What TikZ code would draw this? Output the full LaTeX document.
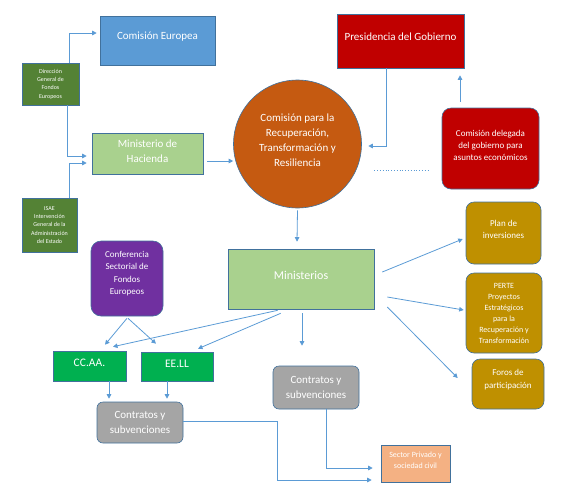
\documentclass[tikz,border=0pt]{standalone}
\usepackage{fontspec}
\setmainfont{Carlito}
\usetikzlibrary{arrows.meta}

\definecolor{bordc}{HTML}{41719C}
\definecolor{linec}{HTML}{5B9BD5}
\definecolor{ceblue}{HTML}{5B9BD5}
\definecolor{dkgreen}{HTML}{548235}
\definecolor{ltgreen}{HTML}{A9D18E}
\definecolor{circorange}{HTML}{C55A11}
\definecolor{govred}{HTML}{C00000}
\definecolor{gold}{HTML}{BF9000}
\definecolor{confpurple}{HTML}{7030A0}
\definecolor{brgreen}{HTML}{00B050}
\definecolor{contgray}{HTML}{A5A5A5}
\definecolor{peach}{HTML}{F4B183}

\begin{document}
\begin{tikzpicture}[x=1pt,y=-1pt,
	box/.style={draw=bordc, line width=0.6pt, text=white, align=center, inner sep=1pt},
	rbox/.style={box, rounded corners=9pt},
	arr/.style={-{Triangle[width=4.5pt,length=4.5pt]}, linec, line width=0.8pt},
	dotline/.style={linec, line width=0.8pt, dotted},
	]

	\useasboundingbox (0,0) rectangle (570,488);

	% upper part
	\node[box, fill=ceblue, minimum width=115, minimum height=49, text depth=10pt, font=\fontsize{11}{15}\selectfont] (ce) at (157.5,40.5) {Comisión Europea};
	\node[box, fill=dkgreen, minimum width=57, minimum height=42, font=\fontsize{6}{8.3}\selectfont] (dgfe) at (50.5,84) {Dirección\\General de\\Fondos\\Europeos};
	\node[box, fill=ltgreen, minimum width=111, minimum height=41, text depth=4pt, font=\fontsize{11}{15}\selectfont] (hac) at (147.5,153.5) {Ministerio de\\Hacienda};
	\node[box, fill=dkgreen, minimum width=55, minimum height=54, font=\fontsize{6}{8.2}\selectfont] (isae) at (49.5,225) {ISAE\\Intervención\\General de la\\Administración\\del Estado};
	\node[box, circle, fill=circorange, minimum size=128, text depth=8pt, font=\fontsize{11}{15}\selectfont] (crtr) at (297.5,144) {Comisión para la\\Recuperación,\\Transformación y\\Resiliencia};
	\node[box, fill=govred, minimum width=127, minimum height=54, text depth=8pt, font=\fontsize{11}{15}\selectfont] (pres) at (400.5,41) {Presidencia del Gobierno};
	\node[rbox, fill=govred, minimum width=97, minimum height=81, text depth=7pt, font=\fontsize{9}{12}\selectfont] (cdel) at (490.5,148.5) {Comisión delegada\\del gobierno para\\asuntos económicos};

	% lower part
	\node[box, fill=ltgreen, minimum width=146, minimum height=60, text depth=8pt, font=\fontsize{12}{15}\selectfont] (min) at (301,279) {Ministerios};
	\node[rbox, rounded corners=8pt, fill=gold, minimum width=75, minimum height=62, text depth=7pt, font=\fontsize{9}{12.3}\selectfont] (plan) at (503.5,233) {Plan de\\inversiones};
	\node[rbox, rounded corners=8pt, fill=gold, minimum width=76, minimum height=80, font=\fontsize{8}{11}\selectfont] (perte) at (504,313) {PERTE\\Proyectos\\Estratégicos\\para la\\Recuperación y\\Transformación};
	\node[rbox, rounded corners=8pt, fill=gold, minimum width=72, minimum height=50, text depth=10pt, font=\fontsize{9}{12.7}\selectfont] (foros) at (508,384) {Foros de\\participación};
	\node[rbox, rounded corners=10pt, fill=confpurple, minimum width=72, minimum height=75, text depth=11pt, font=\fontsize{9}{12.3}\selectfont] (conf) at (127,278.5) {Conferencia\\Sectorial de\\Fondos\\Europeos};
	\node[box, fill=brgreen, minimum width=73, minimum height=30, text depth=6pt, font=\fontsize{11.5}{14}\selectfont] (ccaa) at (89.5,366) {CC.AA.};
	\node[box, fill=brgreen, minimum width=72, minimum height=29, text depth=6pt, font=\fontsize{11.5}{14}\selectfont] (eell) at (177,366.5) {EE.LL};
	\node[rbox, rounded corners=6pt, fill=contgray, minimum width=86, minimum height=41, font=\fontsize{11}{15}\selectfont] (contL) at (140,422.5) {Contratos y\\subvenciones};
	\node[rbox, rounded corners=6pt, fill=contgray, minimum width=86, minimum height=43, font=\fontsize{11}{15}\selectfont] (contR) at (316,387.5) {Contratos y\\subvenciones};
	\node[box, fill=peach, minimum width=69, minimum height=37, text depth=6pt, font=\fontsize{8}{11}\selectfont] (sector) at (415.5,463.5) {Sector Privado y\\sociedad civil};

	% connectors
	\draw[arr] ([xshift=18.5]dgfe.north) |- ([xshift=-3,yshift=7.5]ce.west);
	\draw[arr] ([xshift=16.5]dgfe.south) |- ([xshift=-5,yshift=-2.5]hac.west);
	\draw[arr] ([xshift=19.5]isae.north) |- ([xshift=-5,yshift=-9.5]hac.west);
	\draw[arr] ([xshift=4,yshift=-7.5]hac.east) -- ([yshift=-7.5]hac.east -| crtr.west);
	\draw[arr] ([xshift=-14.5]pres.south) |- ([xshift=6.5,yshift=-2]crtr.east);
	\draw[arr] ([xshift=-30.5,yshift=6]cdel.north) -- ([xshift=59.5,yshift=-7]pres.south);
	\draw[dotline] ([xshift=12.5,yshift=-26]crtr.east) -- ([xshift=-12,yshift=-21.5]cdel.west);
	\draw[arr] ([yshift=-2]crtr.south) -- ([xshift=-4,yshift=7]min.north);

	\draw[arr] ([xshift=8,yshift=7]min.east) -- ([xshift=-3,yshift=-6]plan.west);
	\draw[arr] ([xshift=13,yshift=-18]min.east) -- ([xshift=-2,yshift=3]perte.west);
	\draw[arr] ([xshift=13,yshift=-28]min.east) -- ([xshift=-14,yshift=6]foros.west);
	\draw[arr] ([xshift=1,yshift=-4]min.south) -- ([xshift=-14,yshift=20]contR.north);
	\draw[arr] ([xshift=50,yshift=-1]min.south west) -- ([xshift=23.5,yshift=4]ccaa.north);
	\draw[arr] ([xshift=53,yshift=-4]min.south west) -- ([xshift=21,yshift=3]eell.north);
	\draw[arr] ([yshift=-2]conf.south) -- ([xshift=15.5,yshift=6]ccaa.north);
	\draw[arr] ([xshift=1,yshift=-2]conf.south) -- ([xshift=-21,yshift=8]eell.north);
	\draw[arr] ([xshift=19.5]ccaa.south) -- ([xshift=-31,yshift=3]contL.north);
	\draw[arr] ([xshift=-10]eell.south) -- ([xshift=27,yshift=3]contL.north);
	\draw[arr] ([yshift=1.5]contL.east) -| ([xshift=-103,yshift=-16.5]sector.west) -- ([xshift=-9,yshift=-16.5]sector.west);
	\draw[arr] ([xshift=10]contR.south) |- ([xshift=-8,yshift=-4.5]sector.west);

\end{tikzpicture}
\end{document}
